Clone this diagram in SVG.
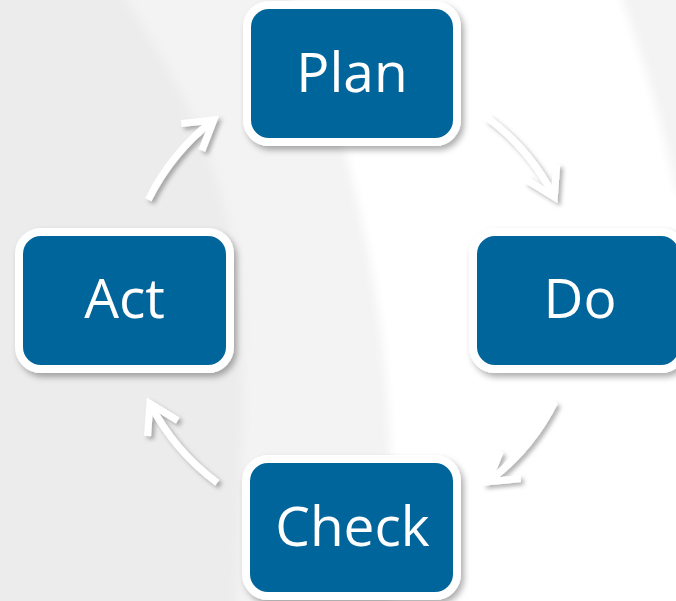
<svg xmlns="http://www.w3.org/2000/svg" width="676" height="601" viewBox="0 0 676 601">
  <defs>
    <style>
      .box { fill: #03659b; stroke: #ffffff; stroke-width: 8; }
      .label { font-family: "Open Sans", "Noto Sans", sans-serif; font-size: 55px; fill: #ffffff; text-anchor: middle; }
      .arc { fill: none; stroke: #ffffff; stroke-width: 7; stroke-linecap: butt; marker-end: url(#head); }
    </style>
    <filter id="soft" x="-10%" y="-10%" width="120%" height="120%">
      <feGaussianBlur stdDeviation="5"/>
    </filter>
    <filter id="boxShadow" x="-15%" y="-15%" width="130%" height="135%">
      <feDropShadow dx="3" dy="4" stdDeviation="3" flood-color="#000000" flood-opacity="0.32"/>
    </filter>
    <filter id="arrowShadow" x="-20%" y="-20%" width="140%" height="140%">
      <feDropShadow dx="3" dy="3" stdDeviation="2.2" flood-color="#000000" flood-opacity="0.3"/>
    </filter>
    <marker id="head" markerUnits="userSpaceOnUse" viewBox="-40 -25 50 50" refX="0" refY="0" markerWidth="50" markerHeight="50" orient="auto" overflow="visible">
      <path d="M -28 -17 L 0 0 L -28 17" fill="none" stroke="#ffffff" stroke-width="7" stroke-linejoin="miter"/>
    </marker>
  </defs>

  <!-- backdrop with soft light swooshes -->
  <rect width="676" height="601" fill="#ececec"/>
  <g filter="url(#soft)">
    <path d="M 112 -20 C 190 90, 238 200, 242 330 C 244 420, 238 520, 236 620 L 700 620 L 700 -20 Z" fill="#f3f3f3"/>
    <path d="M 285 -20 C 345 120, 385 280, 390 450 L 392 620 L 700 620 L 700 210 L 676 190 C 660 110, 640 50, 616 -20 Z" fill="#ffffff"/>
  </g>

  <!-- cycle connectors -->
  <g id="connectors" filter="url(#arrowShadow)">
    <path class="arc" d="M 487 117.5 A 227 227 0 0 1 554.3 196.9"/>
    <path class="arc" d="M 554.8 402 A 227 227 0 0 1 488 481.8"/>
    <path class="arc" d="M 217.3 482.7 A 227 227 0 0 1 149.9 403.4"/>
    <path class="arc" d="M 148.3 199.8 A 227 227 0 0 1 213.8 119.9"/>
  </g>

  <!-- stages -->
  <g id="plan" filter="url(#boxShadow)">
    <rect class="box" x="247" y="5" width="210" height="137" rx="22"/>
    <text class="label" x="352" y="92">Plan</text>
  </g>
  <g id="do" filter="url(#boxShadow)">
    <rect class="box" x="473" y="232" width="210" height="137" rx="22"/>
    <text class="label" x="580" y="318">Do</text>
  </g>
  <g id="check" filter="url(#boxShadow)">
    <rect class="box" x="246" y="459" width="211" height="137" rx="22"/>
    <text class="label" x="352.5" y="546">Check</text>
  </g>
  <g id="act" filter="url(#boxShadow)">
    <rect class="box" x="19" y="232" width="211" height="137" rx="22"/>
    <text class="label" x="124.5" y="318">Act</text>
  </g>
</svg>
